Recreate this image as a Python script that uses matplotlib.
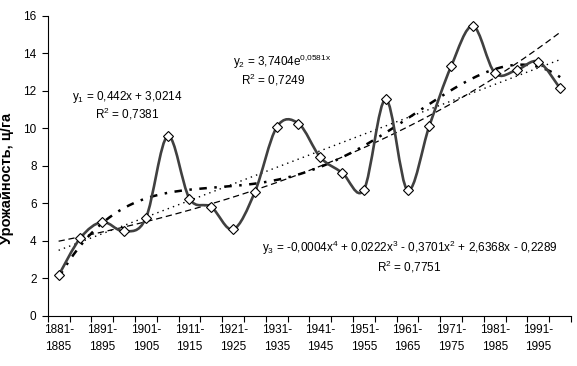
import numpy as np
import matplotlib

matplotlib.use("Agg")
import matplotlib.pyplot as plt
from matplotlib.path import Path
from matplotlib.patches import PathPatch

plt.rcParams["font.family"] = ["Liberation Sans", "DejaVu Sans"]
plt.rcParams["mathtext.default"] = "regular"

# пятилетние периоды
periods = [
    "1881-\n1885", "1886-\n1890", "1891-\n1895", "1896-\n1900",
    "1901-\n1905", "1906-\n1910", "1911-\n1915", "1916-\n1920",
    "1921-\n1925", "1926-\n1930", "1931-\n1935", "1936-\n1940",
    "1941-\n1945", "1946-\n1950", "1951-\n1955", "1956-\n1960",
    "1961-\n1965", "1966-\n1970", "1971-\n1975", "1976-\n1980",
    "1981-\n1985", "1986-\n1990", "1991-\n1995", "1996-\n2000",
]
# урожайность, ц/га
yields = [
    2.15, 4.15, 5.0, 4.5, 5.2, 9.58, 6.25, 5.8,
    4.6, 6.6, 10.05, 10.25, 8.45, 7.63, 6.72, 11.55,
    6.7, 10.12, 13.3, 15.45, 12.95, 13.1, 13.55, 12.12,
]

x = np.arange(len(yields))
y = np.array(yields)
t = x + 1  # номер периода для трендов, как в Excel

fig = plt.figure(figsize=(5.77, 3.66), dpi=100)
ax = fig.add_axes([0.0827, 0.1374, 0.907, 0.8197])

# тренды
tt = np.linspace(t[0], t[-1], 300)
lin = np.polyfit(t, y, 1)
ax.plot(tt - 1, np.polyval(lin, tt), color="black", lw=1.0,
        linestyle=(0, (1, 3)), zorder=2)
expc = np.polyfit(t, np.log(y), 1)
ax.plot(tt - 1, np.exp(expc[1]) * np.exp(expc[0] * tt), color="black", lw=0.9,
        linestyle=(0, (5, 3)), zorder=2)
poly = np.polyfit(t, y, 4)
ax.plot(tt - 1, np.polyval(poly, tt), color="black", lw=1.8,
        linestyle=(0, (3, 3, 1, 3)), zorder=2)

# сглаженная линия данных (кривые Безье, как в Excel)
pts = np.column_stack([x, y]).astype(float)
ext = np.vstack([pts[0], pts, pts[-1]])
verts = [tuple(pts[0])]
codes = [Path.MOVETO]
for i in range(len(pts) - 1):
    p0, p1, p2, p3 = ext[i], ext[i + 1], ext[i + 2], ext[i + 3]
    c1 = p1 + (p2 - p0) / 6
    c2 = p2 - (p3 - p1) / 6
    verts += [tuple(c1), tuple(c2), tuple(p2)]
    codes += [Path.CURVE4] * 3
ax.add_patch(PathPatch(Path(verts, codes), facecolor="none", edgecolor="#404040",
                       lw=1.9, zorder=3))
ax.plot(x, y, linestyle="none", marker="D", markersize=5.4,
        markerfacecolor="white", markeredgecolor="black", markeredgewidth=0.8,
        zorder=4)

ax.set_xlim(-0.5, len(yields) - 0.5)
ax.set_ylim(0, 16)
ax.set_yticks(range(0, 17, 2))
ax.set_xticks(x[::2])
ax.set_xticklabels(periods[::2])
ax.set_xticks(np.arange(-0.5, len(yields)), minor=True)
ax.tick_params(axis="x", which="major", length=0, labelsize=8.5, pad=6)
ax.tick_params(axis="x", which="minor", length=4, width=0.8, direction="out")
ax.tick_params(axis="y", length=4, width=0.8, labelsize=8.5, direction="out", pad=4)
for lab in ax.get_xticklabels():
    lab.set_linespacing(1.5)
for side in ("top", "right"):
    ax.spines[side].set_visible(False)
for side in ("left", "bottom"):
    ax.spines[side].set_linewidth(0.8)

ax.set_ylabel("Урожайность, ц/га", fontsize=10.5, fontweight="bold")
ax.yaxis.set_label_coords(-0.065, 0.456)

fs = 8.5
fig.text(127 / 577, 1 - 97 / 366, "y$_1$ = 0,442x + 3,0214", fontsize=fs,
         ha="center", va="center")
fig.text(127 / 577, 1 - 114 / 366, "R$^2$ = 0,7381", fontsize=fs,
         ha="center", va="center")
fig.text(233 / 577, 1 - 62 / 366, "y$_2$ = 3,7404e$^{0{,}0581x}$", fontsize=fs,
         ha="left", va="center")
fig.text(273 / 577, 1 - 80 / 366, "R$^2$ = 0,7249", fontsize=fs,
         ha="center", va="center")
fig.text(262 / 577, 1 - 248 / 366,
         "y$_3$ = -0,0004x$^4$ + 0,0222x$^3$ - 0,3701x$^2$ + 2,6368x - 0,2289",
         fontsize=fs, ha="left", va="center")
fig.text(409 / 577, 1 - 267 / 366, "R$^2$ = 0,7751", fontsize=fs,
         ha="center", va="center")

fig.savefig("out.png", dpi=100, facecolor="white")
